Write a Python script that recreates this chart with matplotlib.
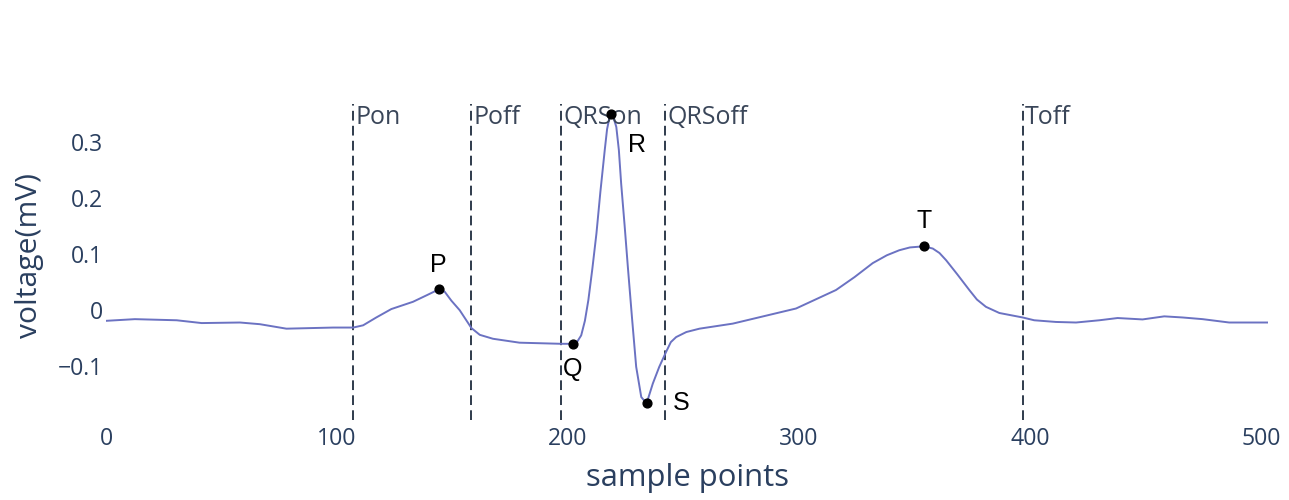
import matplotlib
matplotlib.use("Agg")
import matplotlib.pyplot as plt

# ECG beat (sample index, voltage in mV)
sample_idx = [0, 12.5, 30.6, 41.4, 58, 66.6, 78.1, 98.3, 107, 111.3, 117, 123.5,
              132.9, 139, 144, 146.6, 149.5, 153.1, 158.2, 161.8, 167.5, 179, 197,
              202, 204, 205.7, 207.3, 208.8, 210.5, 212.3, 214, 215.9, 216.9, 218,
              218.6, 219.8, 220.9, 222, 223, 224.5, 225.9, 227.7, 229.5, 231.7,
              234, 236.7, 239.5, 242.5, 244.5, 246.8, 251.2, 256.9, 271.3, 298.7,
              316, 324, 331.9, 338, 343.4, 348, 354, 357.9, 360.8, 363.7, 368.5,
              373.7, 377, 380.9, 386.7, 396.8, 401.8, 411.2, 419.9, 430, 437.9,
              448.7, 458.1, 466, 474.7, 486.2, 503]
voltage = [-0.020, -0.017, -0.019, -0.024, -0.023, -0.026, -0.034, -0.032, -0.032,
           -0.028, -0.014, 0.001, 0.014, 0.026, 0.036, 0.032, 0.016, -0.001,
           -0.033, -0.045, -0.052, -0.059, -0.061, -0.061, -0.057, -0.046,
           -0.020, 0.017, 0.072, 0.136, 0.210, 0.285, 0.322, 0.344, 0.349, 0.341,
           0.326, 0.285, 0.225, 0.150, 0.076, -0.015, -0.102, -0.156, -0.1675,
           -0.132, -0.102, -0.075, -0.058, -0.049, -0.040, -0.034, -0.025, 0.002,
           0.035, 0.058, 0.083, 0.097, 0.106, 0.111, 0.113, 0.109, 0.101, 0.088,
           0.063, 0.035, 0.018, 0.005, -0.006, -0.014, -0.019, -0.022, -0.023,
           -0.019, -0.015, -0.0175, -0.012, -0.014, -0.017, -0.023, -0.023]

# fiducial points
peak_names = ["P", "Q", "R", "S", "T"]
peak_idx = [144, 202, 218.6, 234, 354]
peak_val = [0.036, -0.061, 0.349, -0.1675, 0.113]
peak_offsets = [(0, 24), (0, -25), (26, -31), (35, 0), (0, 25)]  # px

# wave boundaries
bound_names = ["Pon", "Poff", "QRSon", "QRSoff", "Toff"]
bound_idx = [107, 158, 197, 242, 397]

y_ticks = [-0.1, 0, 0.1, 0.2, 0.3]
y_tick_labels = ["\u22120.1", "0", "0.1", "0.2", "0.3"]
x_ticks = [0, 100, 200, 300, 400, 500]

TXT = "#2a3f5f"
PX = 0.72  # points per pixel at 100 dpi

fig = plt.figure(figsize=(12.89, 5.0), dpi=100)
ax = fig.add_axes([106 / 1289, 80 / 500, 1162 / 1289, 316 / 500])

ax.plot(sample_idx, voltage, color="#6b72c2", lw=1.4, zorder=2)

for name, x in zip(bound_names, bound_idx):
    ax.axvline(x, color="#2f3b4c", lw=1.4, dashes=(5, 2.7), zorder=1)
    ax.annotate(name, xy=(x, 1), xycoords=("data", "axes fraction"),
                xytext=(2 * PX, -14 * PX), textcoords="offset points",
                ha="left", va="center", fontsize=25 * PX, color="#3a4659",
                family="Open Sans")

ax.scatter(peak_idx, peak_val, s=40, color="black", zorder=3)
for name, x, y, off in zip(peak_names, peak_idx, peak_val, peak_offsets):
    ax.annotate(name, xy=(x, y), xytext=(off[0] * PX, off[1] * PX),
                textcoords="offset points", ha="center", va="center",
                fontsize=25 * PX, color="black", family="Liberation Sans")

ax.set_xlim(0, 503)
ax.set_ylim(-0.197, 0.367)
ax.set_xticks(x_ticks)
ax.set_yticks(y_ticks)
ax.set_yticklabels(y_tick_labels)
for s in ax.spines.values():
    s.set_visible(False)
ax.tick_params(length=0, labelsize=23 * PX, labelcolor=TXT)
ax.tick_params(axis="x", pad=7 * PX)
ax.tick_params(axis="y", pad=3 * PX)
for lab in ax.get_xticklabels() + ax.get_yticklabels():
    lab.set_family("Open Sans")

ax.set_xlabel("sample points", fontsize=31 * PX, color=TXT, family="Open Sans")
ax.set_ylabel("voltage(mV)", fontsize=30 * PX, color=TXT, family="Open Sans")
ax.xaxis.set_label_coords(0.5, -0.185)
ax.yaxis.set_label_coords(-0.066, 0.52)
ax.xaxis.label.set_va("center")
ax.yaxis.label.set_va("center")

fig.savefig("out.png", dpi=100)
